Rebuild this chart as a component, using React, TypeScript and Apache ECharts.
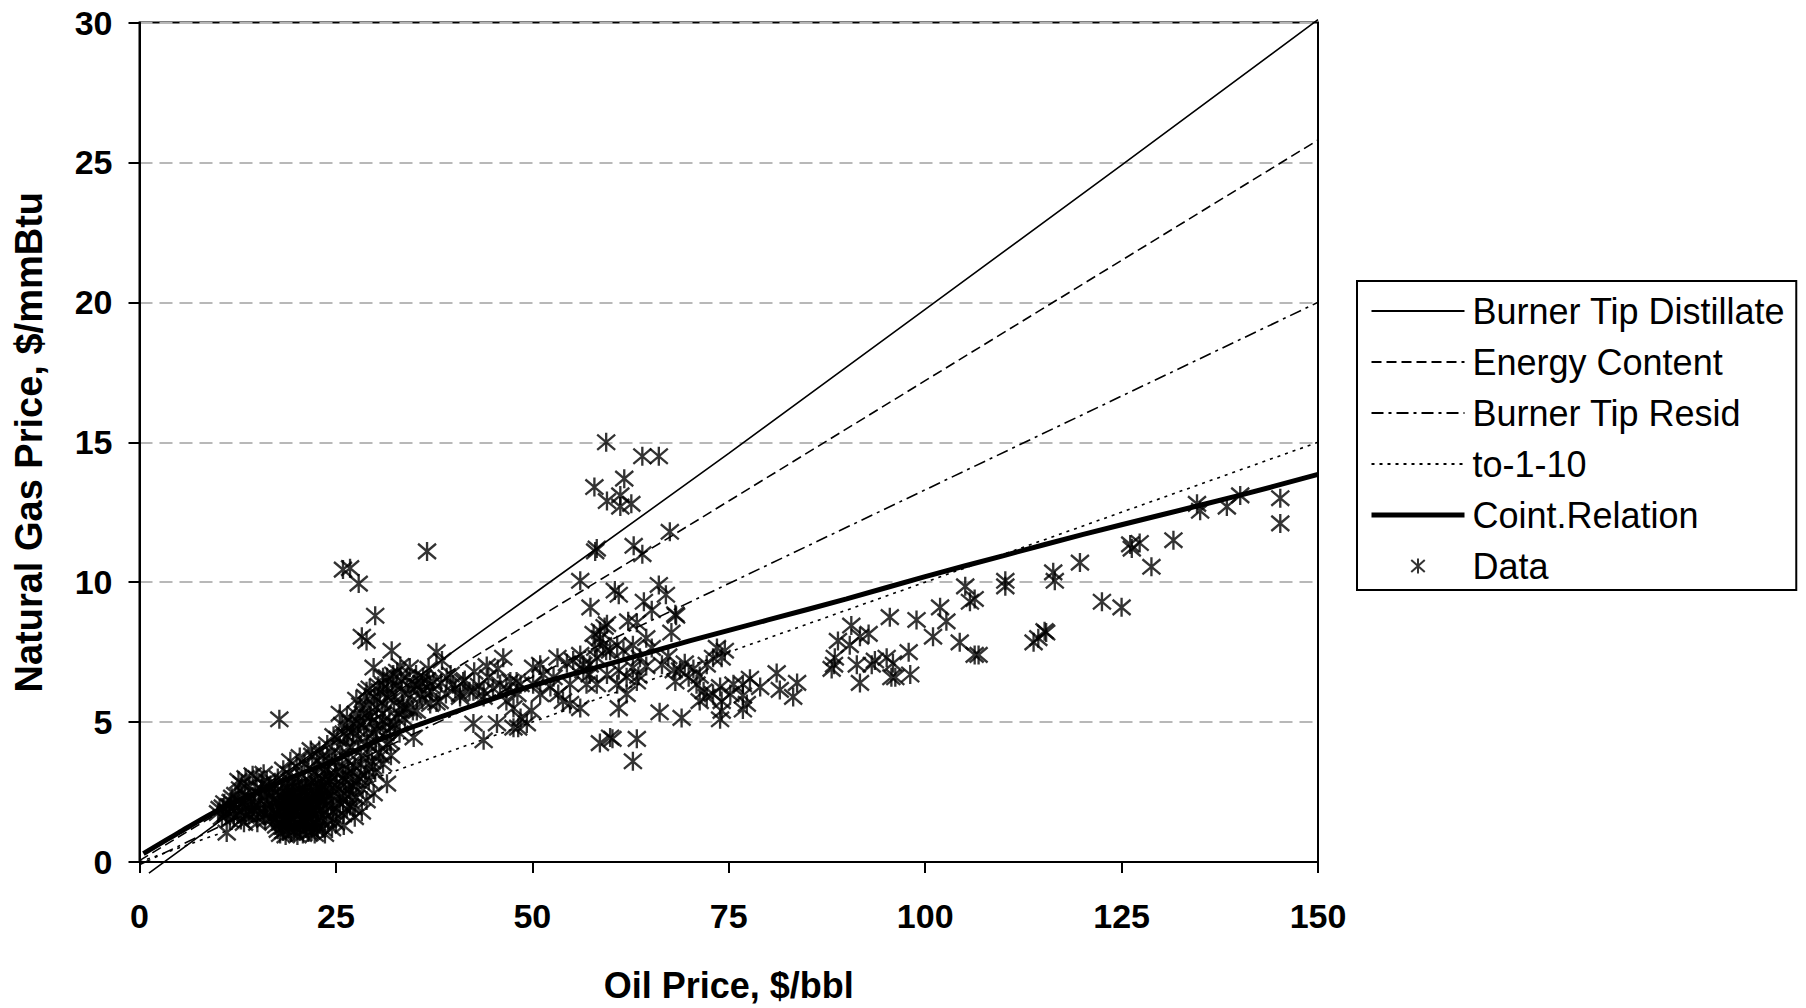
import React, { useEffect, useRef } from "react";
import * as echarts from "echarts";

// ---------- Axis settings ----------
const xTickValues = [0, 25, 50, 75, 100, 125, 150];
const yTickValues = [0, 5, 10, 15, 20, 25, 30];

// ---------- Reference lines ([oil, gas]) ----------
const distillateLine = [[1.2, -0.4], [25, 4.5], [50, 9.55], [75, 14.6], [100, 19.75], [125, 24.9], [150, 30.1]];
const energyLine = [[0, 0.05], [25, 4.3], [50, 8.6], [75, 12.9], [100, 17.2], [125, 21.5], [150, 25.8]];
const residLine = [[0, -0.1], [50, 6.6], [100, 13.3], [150, 20.0]];
const tenToOneLine = [[0, 0], [50, 5.0], [100, 10.0], [150, 15.0]];
const cointLine = [
  [0.5, 0.3], [5, 1.05], [10, 1.85], [15, 2.5], [20, 3.1], [25, 3.65], [30, 4.3], [35, 4.85], [40, 5.35],
  [50, 6.3], [60, 7.1], [70, 7.9], [80, 8.65], [90, 9.4], [100, 10.2], [110, 10.95], [120, 11.7],
  [130, 12.4], [140, 13.1], [150, 13.85],
];

// ---------- Observed data ([oil, gas]) ----------
const dataBand10to17 = [
  [10.2, 1.9], [10.8, 2.1], [11.0, 1.7], [11.4, 2.0], [11.8, 2.3], [12.0, 1.6], [12.3, 1.9], [12.6, 2.2],
  [12.9, 1.5], [13.1, 1.8], [13.4, 2.4], [13.6, 2.0], [13.9, 1.7], [14.2, 2.2], [14.4, 1.9], [14.7, 2.5],
  [14.9, 1.6], [15.2, 2.1], [15.5, 2.6], [15.7, 1.8], [15.9, 2.3], [16.2, 2.0], [16.5, 2.7], [16.8, 1.6],
  [17.0, 2.2], [11.5, 1.5], [12.8, 2.6], [13.3, 1.4], [14.0, 2.7], [15.0, 1.4], [16.0, 1.5], [10.5, 1.6],
  [17.2, 2.5], [11.1, 1.05], [14.9, 3.0], [15.8, 3.15], [16.2, 2.9],
  [10.0, 1.75], [10.6, 1.95], [11.2, 1.8], [11.6, 2.15], [12.1, 2.05], [12.5, 1.7], [13.0, 2.1], [13.5, 1.65],
  [13.8, 2.3], [14.3, 1.75], [14.6, 2.05], [15.1, 1.85], [15.4, 2.35], [15.9, 1.7], [16.3, 2.45], [16.6, 1.9],
  [16.9, 2.35], [15.6, 2.8], [13.0, 2.8], [12.2, 2.4], [13.5, 3.0], [14.4, 3.1], [12.6, 2.9],
];

const dataBlob17to24 = [
  [17.9, 1.0], [18.6, 0.95], [19.3, 1.05], [20.1, 0.95], [20.8, 1.0], [21.5, 1.05], [22.3, 1.0],
  [17.4, 1.3], [18.2, 1.25], [18.9, 1.35], [19.7, 1.3], [20.4, 1.25], [21.2, 1.35], [21.9, 1.3], [22.7, 1.25],
  [17.1, 1.6], [17.8, 1.65], [18.5, 1.55], [19.2, 1.6], [20.0, 1.65], [20.7, 1.55], [21.4, 1.6], [22.1, 1.65], [22.9, 1.6],
  [17.3, 1.9], [18.0, 1.95], [18.8, 1.85], [19.5, 1.9], [20.2, 1.95], [21.0, 1.85], [21.7, 1.9], [22.5, 1.95], [23.2, 1.9],
  [17.6, 2.2], [18.4, 2.25], [19.1, 2.15], [19.8, 2.2], [20.6, 2.25], [21.3, 2.15], [22.0, 2.2], [22.8, 2.25], [23.5, 2.2],
  [18.1, 2.5], [18.9, 2.55], [19.6, 2.45], [20.3, 2.5], [21.1, 2.55], [21.8, 2.45], [22.6, 2.5], [23.4, 2.55],
  [18.6, 2.8], [19.4, 2.85], [20.2, 2.75], [21.0, 2.8], [21.8, 2.85], [22.7, 2.8], [23.6, 2.9],
  [19.0, 3.15], [20.7, 3.1], [22.3, 3.2], [24.0, 3.1], [19.2, 3.6], [20.4, 3.75], [20.0, 3.4], [17.8, 5.1],
  [17.6, 1.15], [18.3, 1.1], [19.0, 1.2], [19.7, 1.1], [20.5, 1.15], [21.2, 1.2], [21.9, 1.1], [22.6, 1.15],
  [17.2, 1.45], [17.9, 1.4], [18.6, 1.5], [19.4, 1.45], [20.1, 1.4], [20.9, 1.5], [21.6, 1.45], [22.4, 1.4], [23.1, 1.45],
  [17.5, 1.75], [18.2, 1.8], [18.9, 1.7], [19.7, 1.75], [20.4, 1.8], [21.2, 1.7], [21.9, 1.75], [22.7, 1.8], [23.4, 1.75],
  [17.8, 2.05], [18.6, 2.1], [19.3, 2.0], [20.0, 2.05], [20.8, 2.1], [21.5, 2.0], [22.3, 2.05], [23.0, 2.1], [23.8, 2.05],
  [18.3, 2.35], [19.0, 2.4], [19.8, 2.3], [20.5, 2.35], [21.3, 2.4], [22.0, 2.3], [22.8, 2.35], [23.6, 2.4],
  [18.8, 2.65], [19.6, 2.7], [20.4, 2.6], [21.2, 2.65], [22.0, 2.7], [22.9, 2.65], [17.2, 2.75], [17.6, 3.0],
  [18.3, 3.3], [21.5, 3.35], [23.2, 3.0],
  [22.5, 3.0], [23.3, 3.8], [24.3, 2.9], [24.7, 4.5], [25.0, 3.2], [25.4, 2.6], [25.9, 3.0], [26.5, 3.3],
  [26.9, 2.8], [24.0, 2.8], [23.7, 3.3], [22.9, 4.0], [24.6, 2.4], [25.9, 2.2], [26.4, 1.9], [22.0, 3.8],
  [21.0, 3.5], [21.8, 4.0], [23.2, 2.7], [25.1, 1.9], [26.0, 1.3], [27.4, 1.6], [28.3, 1.8], [27.0, 2.4], [24.5, 1.2],
];

const dataRise23to46 = [
  [23.3, 1.2], [24.0, 1.5], [24.6, 1.8], [25.0, 1.4], [25.5, 2.1], [25.9, 1.7], [26.3, 2.4], [26.8, 2.0],
  [27.2, 2.7], [27.6, 2.3], [28.0, 3.0], [28.4, 2.6], [28.8, 3.3], [29.2, 2.9], [29.6, 3.6], [30.0, 3.2],
  [30.5, 3.9], [31.0, 3.5], [31.5, 4.2], [32.0, 3.8], [24.2, 2.6], [24.8, 3.0], [25.3, 3.4], [25.8, 3.8],
  [26.2, 3.1], [26.6, 3.6], [27.0, 4.1], [27.4, 3.4], [27.8, 4.4], [28.2, 3.8], [28.6, 4.8], [29.0, 4.2],
  [29.4, 5.2], [29.8, 4.6], [30.2, 5.5], [30.6, 4.9], [31.2, 5.6], [31.8, 5.0], [32.4, 5.7], [33.0, 5.3],
  [24.5, 3.9], [25.2, 4.4], [25.8, 4.9], [26.4, 4.5], [26.9, 5.0], [27.5, 5.3], [28.1, 5.6], [28.7, 5.9],
  [29.3, 6.2], [29.9, 5.9], [30.4, 6.3], [31.0, 6.6], [31.6, 6.2], [32.2, 6.5], [32.8, 6.8], [33.4, 6.1],
  [33.5, 5.6], [34.2, 6.0], [34.8, 5.4], [35.4, 6.3], [36.0, 5.8], [36.6, 6.5], [37.2, 6.1], [37.8, 5.7],
  [38.4, 6.4], [39.0, 6.0], [39.6, 6.7], [40.2, 6.2], [40.8, 5.9], [41.4, 6.5], [42.0, 6.1], [42.6, 6.8],
  [43.2, 6.3], [43.8, 5.9], [44.4, 6.6], [45.0, 6.2], [45.6, 6.9],
  [36.6, 11.1], [25.9, 10.45], [26.8, 10.5], [27.9, 9.95], [30.0, 8.8], [28.3, 8.05], [28.9, 7.9], [32.1, 7.55],
  [37.8, 7.5], [29.8, 6.95], [33.2, 7.0], [34.4, 6.95], [36.8, 6.9], [44.2, 7.0], [25.5, 5.3], [31.0, 6.35],
  [27.6, 5.8], [28.9, 6.1], [30.6, 6.1], [31.5, 6.6], [32.3, 6.7], [34.9, 6.35], [36.1, 6.6], [37.4, 6.45],
  [39.1, 6.6], [39.9, 6.35], [41.2, 6.45], [42.5, 6.1], [43.8, 6.1], [40.8, 6.0], [35.7, 6.0], [37.0, 5.65],
  [38.2, 5.75], [35.3, 5.4], [34.0, 5.5], [42.5, 4.95], [43.8, 4.35], [45.5, 4.95], [34.9, 4.45], [26.4, 5.15],
  [27.2, 4.7], [28.1, 4.95], [28.9, 4.45], [30.2, 4.7], [29.3, 5.15], [31.0, 5.05], [31.9, 4.8], [32.7, 5.15],
  [33.6, 5.5], [31.5, 2.8], [29.8, 2.45], [27.2, 1.95], [24.7, 1.5], [23.6, 1.0], [28.9, 2.2], [38.5, 7.2],
  [23.8, 2.3], [24.4, 2.0], [25.1, 2.7], [25.6, 2.4], [26.1, 2.9], [26.7, 2.6], [27.1, 3.2], [27.7, 2.9],
  [28.2, 3.5], [28.7, 3.1], [29.1, 3.9], [29.7, 3.4], [30.1, 4.3], [30.7, 3.8], [31.3, 4.6], [31.9, 4.3],
  [32.5, 4.9], [33.1, 4.6], [33.8, 5.1], [24.9, 3.6], [25.5, 4.1], [26.0, 4.6], [26.6, 4.1], [27.2, 4.6],
  [27.8, 5.0], [28.4, 5.3], [29.0, 5.6], [29.6, 5.0], [30.3, 5.8], [30.9, 5.3], [31.5, 5.9], [32.1, 6.0],
  [32.7, 6.3], [33.3, 6.5], [34.0, 6.6], [34.6, 6.2], [35.2, 6.7], [35.9, 6.4], [36.4, 6.0], [37.0, 6.3],
  [23.0, 2.6], [23.5, 3.4], [24.1, 3.6], [22.6, 3.6], [23.9, 4.2],
];

const dataMid46to84 = [
  [59.4, 15.0], [64.0, 14.5], [66.1, 14.5], [61.7, 13.7], [57.9, 13.4], [59.5, 12.9], [61.2, 13.1], [61.2, 12.7],
  [62.6, 12.8], [67.5, 11.8], [58.2, 11.2], [58.0, 11.1], [62.9, 11.3], [64.0, 11.0], [56.1, 10.05], [60.5, 9.7],
  [61.0, 9.55], [66.1, 9.9], [67.0, 9.55], [57.4, 9.1], [64.2, 9.3], [65.2, 9.0], [68.2, 8.85], [63.3, 8.55],
  [62.2, 8.6], [67.7, 8.2], [59.2, 8.4], [58.6, 8.0], [58.0, 7.65], [59.4, 7.55], [60.8, 7.75], [61.6, 7.55],
  [62.8, 7.75], [64.5, 8.0], [65.2, 7.65], [63.7, 7.3], [64.5, 7.0], [63.5, 6.65], [67.3, 7.35], [66.5, 7.05],
  [68.0, 6.85], [68.2, 6.45], [69.4, 7.1], [68.8, 6.85], [69.9, 6.6], [70.5, 6.9], [71.3, 6.65], [70.9, 6.35],
  [71.8, 6.1], [71.3, 5.75], [72.2, 5.9], [73.5, 7.65], [74.5, 7.55], [74.1, 7.3], [73.0, 7.3], [72.2, 7.05],
  [73.9, 6.25], [73.0, 6.0], [74.1, 5.75], [74.1, 5.4], [73.9, 5.1], [75.6, 6.35], [75.2, 6.0], [76.8, 6.35],
  [76.8, 5.95], [77.3, 5.65], [76.8, 5.45], [77.7, 6.55], [79.0, 6.25], [81.1, 6.75], [81.5, 6.15], [83.2, 5.9],
  [83.7, 6.4], [66.2, 5.35], [69.0, 5.15], [58.6, 4.25], [59.9, 4.45], [60.2, 4.4], [63.3, 4.4], [62.8, 3.6],
  [46.3, 7.3], [45.9, 6.35], [47.2, 6.45], [48.5, 6.35], [48.1, 6.0], [46.7, 5.75], [47.6, 5.5], [48.5, 5.15],
  [49.3, 4.95], [48.2, 4.8], [50.1, 6.95], [51.0, 7.05], [51.4, 6.7], [52.7, 6.6], [52.3, 6.25], [50.1, 6.35],
  [51.0, 6.0], [49.9, 5.4], [53.2, 7.3], [54.4, 7.1], [53.3, 6.0], [53.9, 5.75], [54.8, 5.65], [56.1, 5.5],
  [54.8, 6.35], [56.9, 6.35], [56.5, 6.85], [57.8, 8.15], [58.6, 8.25], [59.5, 8.5], [59.0, 7.75], [59.9, 7.55],
  [58.2, 7.3], [57.3, 7.05], [56.1, 7.4], [55.2, 7.2], [56.5, 7.05], [57.3, 6.7], [58.2, 6.35], [59.5, 6.7],
  [61.0, 6.85], [60.8, 6.35], [62.0, 6.6], [61.0, 5.5], [62.0, 6.0], [63.3, 6.45], [62.8, 6.95], [68.3, 8.8],
  [47.6, 4.8], [46.7, 6.2], [48.0, 6.45],
];

const dataHigh88to146 = [
  [88.4, 7.05], [88.5, 7.3], [88.1, 6.9], [88.9, 7.9], [90.6, 8.45], [90.4, 7.75], [91.7, 8.05], [92.8, 8.15],
  [91.3, 7.05], [91.7, 6.4], [93.2, 7.05], [93.6, 7.2], [95.1, 7.3], [95.9, 7.1], [95.7, 6.6], [96.2, 6.6],
  [97.9, 7.5], [98.1, 6.7], [95.5, 8.75], [98.9, 8.65], [101.0, 8.05], [101.9, 9.1], [102.7, 8.6], [104.4, 7.85],
  [105.1, 9.85], [105.7, 9.3], [106.3, 9.4], [106.3, 7.4], [106.8, 7.4], [110.2, 10.05], [110.2, 9.85], [113.8, 7.85],
  [114.4, 8.0], [115.2, 8.25], [115.4, 8.2], [116.3, 10.35], [116.5, 10.05], [119.7, 10.7], [122.5, 9.3], [125.0, 9.1],
  [126.1, 11.35], [126.3, 11.2], [127.3, 11.4], [128.8, 10.55], [131.6, 11.5], [134.6, 12.8], [135.0, 12.55],
  [138.4, 12.7], [140.1, 13.1], [145.2, 13.0], [145.2, 12.1],
];

const legendNames = ["Burner Tip Distillate", "Energy Content", "Burner Tip Resid", "to-1-10", "Coint.Relation", "Data"];

const FONT = "'Liberation Sans', Arial, Helvetica, sans-serif";
const ASTERISK = "path://M10,0L10,20M1,2L19,18M1,18L19,2";

export default function App() {
  const ref = useRef<HTMLDivElement | null>(null);

  useEffect(() => {
    document.body.style.margin = "0";
    if (!ref.current) return;
    const chart = echarts.init(ref.current, undefined, { renderer: "svg" });

    const allData = [...dataBand10to17, ...dataBlob17to24, ...dataRise23to46, ...dataMid46to84, ...dataHigh88to146];

    const lineSeries = (name: string, data: number[][], width: number, type: any, smooth: number | boolean) => ({
      name,
      type: "line",
      data,
      symbol: "none",
      showSymbol: false,
      clip: false,
      smooth,
      lineStyle: { color: "#000", width, type },
      itemStyle: { color: "#000" },
      z: 3,
    });

    const hiddenSymbol = { color: "rgba(0,0,0,0)", opacity: 0 };
    const legendData = legendNames.map((name, i) => {
      if (i === 4) return { name, itemStyle: hiddenSymbol, lineStyle: { width: 5, color: "#000", type: "solid" } };
      if (i < 4) return { name, itemStyle: hiddenSymbol };
      return { name };
    });

    chart.setOption({
      animation: false,
      backgroundColor: "#fff",
      grid: {
        left: 139.5,
        top: 22.5,
        width: 1178.5,
        height: 842.5,
        show: true,
        borderColor: "#000",
        borderWidth: 2,
      },
      xAxis: {
        type: "value",
        min: xTickValues[0],
        max: xTickValues[xTickValues.length - 1],
        interval: 25,
        name: "Oil Price, $/bbl",
        nameLocation: "middle",
        nameGap: 105,
        nameTextStyle: { fontSize: 36, fontWeight: "bold", fontFamily: FONT, color: "#000" },
        axisLine: { show: true, onZero: false, lineStyle: { color: "#000", width: 2 } },
        axisTick: { show: true, inside: false, length: 11, lineStyle: { color: "#000", width: 2 } },
        axisLabel: { fontSize: 34, fontWeight: "bold", fontFamily: FONT, color: "#000", margin: 37 },
        splitLine: { show: false },
      },
      yAxis: {
        type: "value",
        min: yTickValues[0],
        max: yTickValues[yTickValues.length - 1],
        interval: 5,
        name: "Natural Gas Price, $/mmBtu",
        nameLocation: "middle",
        nameGap: 92,
        nameTextStyle: { fontSize: 38, fontWeight: "bold", fontFamily: FONT, color: "#000" },
        axisLine: { show: true, onZero: false, lineStyle: { color: "#000", width: 2 } },
        axisTick: { show: true, inside: false, length: 11, lineStyle: { color: "#000", width: 2 } },
        axisLabel: { fontSize: 34, fontWeight: "bold", fontFamily: FONT, color: "#000", margin: 27 },
        splitLine: { show: true, lineStyle: { color: "#b8b8b8", width: 2, type: [13, 7] } },
      },
      legend: {
        orient: "vertical",
        left: 1357,
        top: 281,
        padding: [10, 11, 4, 12],
        itemWidth: 93,
        itemHeight: 15,
        itemGap: 11,
        borderColor: "#000",
        borderWidth: 2,
        backgroundColor: "#fff",
        selectedMode: false,
        data: legendData,
        textStyle: { fontSize: 36, fontFamily: FONT, color: "#000", lineHeight: 40, padding: [0, 0, 0, 3] },
      },
      series: [
        {
          name: legendNames[5],
          type: "scatter",
          data: allData,
          symbol: ASTERISK,
          symbolSize: [18, 19],
          itemStyle: { color: "rgba(0,0,0,0)", borderColor: "#000", borderWidth: 2.4 },
          z: 2,
        },
        lineSeries(legendNames[0], distillateLine, 1.6, "solid", false),
        lineSeries(legendNames[1], energyLine, 1.6, [10, 5], false),
        lineSeries(legendNames[2], residLine, 1.6, [12, 5, 3, 5], false),
        lineSeries(legendNames[3], tenToOneLine, 1.6, [3, 5], false),
        lineSeries(legendNames[4], cointLine, 5, "solid", 0.3),
      ],
    });

    return () => chart.dispose();
  }, []);

  return <div ref={ref} style={{ width: 1806, height: 1008 }} />;
}
